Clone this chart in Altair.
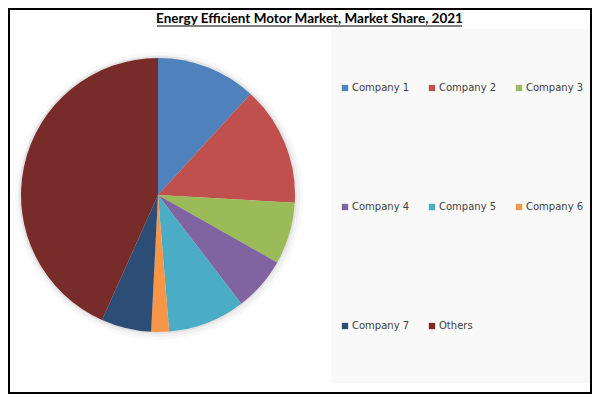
import altair as alt
import pandas as pd

# ---- data ----
companies = ["Company 1", "Company 2", "Company 3", "Company 4",
             "Company 5", "Company 6", "Company 7", "Others"]
shares = [11.8, 14.1, 7.3, 6.4, 9.1, 2.1, 5.9, 43.3]
colors = ["#4F81BD", "#C0504D", "#9BBB59", "#8064A2",
          "#4BACC6", "#F79646", "#2C4D75", "#772C2A"]
title_text = "Energy Efficient Motor Market, Market Share, 2021"

df = pd.DataFrame({"company": companies, "share": shares,
                   "order": list(range(len(companies)))})
one = pd.DataFrame({"k": [0]})

CX, CY, R = 150, 187, 137

panel = alt.Chart(one).mark_rect(color="#F9F9F9").encode(
    x=alt.value(323), x2=alt.value(582), y=alt.value(21), y2=alt.value(375))

shadow1 = alt.Chart(one).mark_arc(radius=R + 7, theta=0, theta2=6.2832,
                                  color="#000000", opacity=0.025).encode(
    x=alt.value(CX + 1), y=alt.value(CY + 1))
shadow2 = alt.Chart(one).mark_arc(radius=R + 4, theta=0, theta2=6.2832,
                                  color="#000000", opacity=0.035).encode(
    x=alt.value(CX + 1), y=alt.value(CY + 1))
shadow3 = alt.Chart(one).mark_arc(radius=R + 2, theta=0, theta2=6.2832,
                                  color="#000000", opacity=0.05).encode(
    x=alt.value(CX), y=alt.value(CY))

pie = alt.Chart(df).mark_arc(radius=R).encode(
    theta=alt.Theta("share:Q", stack=True),
    order=alt.Order("order:Q"),
    color=alt.Color("company:N",
                    scale=alt.Scale(domain=companies, range=colors),
                    legend=alt.Legend(title=None, orient="none",
                                      direction="horizontal",
                                      legendX=332, legendY=75,
                                      columns=3, symbolType="square",
                                      symbolSize=40, symbolStrokeWidth=0,
                                      labelFont="DejaVu Sans", labelFontSize=10,
                                      labelColor="#404040", labelOffset=2,
                                      rowPadding=109, columnPadding=17,
                                      padding=0)),
    x=alt.value(CX), y=alt.value(CY))

title = alt.Chart(one).mark_text(text=title_text, font="Lato", fontWeight="bold",
                                 fontSize=13.5, align="center", baseline="middle",
                                 color="#000000").encode(
    x=alt.value(301.5), y=alt.value(11))
underline = alt.Chart(one).mark_rule(color="#000000", strokeWidth=1.2).encode(
    x=alt.value(149), x2=alt.value(454), y=alt.value(18))

border = alt.Chart(one).mark_rect(fill=None, stroke="#000000", strokeWidth=2).encode(
    x=alt.value(1), x2=alt.value(583), y=alt.value(1), y2=alt.value(385))

chart = alt.layer(panel, shadow1, shadow2, shadow3, pie, title, underline, border).properties(
    width=584, height=386, padding=0,
    autosize=alt.AutoSizeParams(type="none"),
    background="#FFFFFF",
).configure_view(stroke=None)

chart.save("out.html", embed_options={"renderer": "svg", "actions": False})
